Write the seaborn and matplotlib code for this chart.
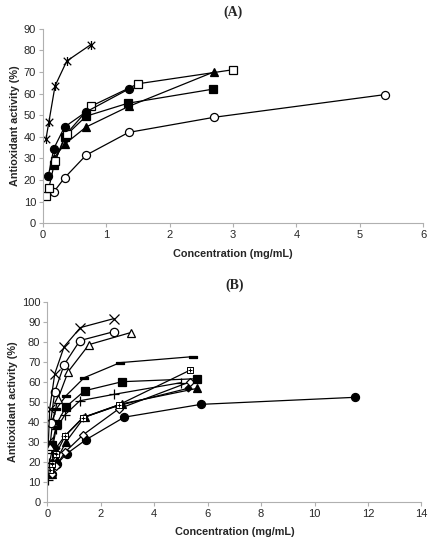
import seaborn as sns
import matplotlib.pyplot as plt
from matplotlib.path import Path

sns.set_style('white')
plt.rcParams['font.family'] = ['Liberation Sans', 'DejaVu Sans']

# ---- panel A data (concentration mg/mL, antioxidant activity %) ----
a_star_x = [0.047, 0.094, 0.19, 0.375, 0.75]
a_star_y = [39, 47, 63.5, 75, 82.5]
a_fcirc_x = [0.085, 0.17, 0.34, 0.68, 1.35]
a_fcirc_y = [22, 34.5, 44.5, 51.5, 62]
a_osq_x = [0.047, 0.094, 0.19, 0.375, 0.75, 1.5, 3.0]
a_osq_y = [12.5, 16.5, 29, 41.5, 54, 64.5, 71]
a_fsq_x = [0.17, 0.34, 0.68, 1.34, 2.68]
a_fsq_y = [27, 40, 49.5, 55.5, 62]
a_ftri_x = [0.17, 0.34, 0.68, 1.35, 2.7]
a_ftri_y = [30, 36.5, 44.5, 54, 70]
a_ocirc_x = [0.17, 0.34, 0.68, 1.35, 2.7, 5.4]
a_ocirc_y = [14.5, 21, 31.5, 42, 49, 59.5]

# ---- panel B data ----
b_x_x = [0.04, 0.09, 0.28, 0.63, 1.24, 2.5]
b_x_y = [30, 46.5, 64, 77.5, 87, 91.5]
b_ocirc_x = [0.12, 0.28, 0.63, 1.22, 2.5]
b_ocirc_y = [39.5, 55, 68.5, 80.5, 85]
b_otri_x = [0.1, 0.2, 0.4, 0.78, 1.56, 3.12]
b_otri_y = [28, 40, 51.5, 65, 78.5, 84.5]
b_dash_x = [0.17, 0.34, 0.7, 1.38, 2.72, 5.44]
b_dash_y = [40, 46.5, 53, 62, 69.5, 72.5]
b_fsq_x = [0.175, 0.35, 0.7, 1.4, 2.8, 5.6]
b_fsq_y = [28.5, 39, 47.5, 55.5, 60, 61.5]
b_plus_x = [0.04, 0.08, 0.16, 0.33, 0.66, 1.22, 2.5, 5.0]
b_plus_y = [11, 19.5, 24.5, 36.5, 43.5, 50.5, 53.7, 59.5]
b_box_x = [0.085, 0.17, 0.33, 0.67, 1.34, 2.68, 5.35]
b_box_y = [16, 19, 24, 33, 42, 48.5, 65.8]
b_odia_x = [0.17, 0.33, 0.67, 1.34, 2.68, 5.35]
b_odia_y = [14, 18, 25, 33.5, 46.5, 60]
b_fdia_x = [0.085, 0.17, 0.33, 0.66, 1.32, 2.64, 5.27]
b_fdia_y = [15, 20, 27, 33, 42, 48, 56.7]
b_ftri_x = [0.175, 0.35, 0.7, 1.4, 2.8, 5.62]
b_ftri_y = [14, 21, 30, 42.5, 49, 56.7]
b_fcirc_x = [0.18, 0.36, 0.72, 1.44, 2.88, 5.75, 11.5]
b_fcirc_y = [14, 19, 24, 31, 42.3, 48.7, 52.2]

# excel style markers
star = Path([(-1, -1), (1, 1), (-1, 1), (1, -1), (0, -1.2), (0, 1.2)],
            [Path.MOVETO, Path.LINETO, Path.MOVETO, Path.LINETO, Path.MOVETO, Path.LINETO])
dash = Path([(-1, -0.3), (1, -0.3), (1, 0.3), (-1, 0.3), (-1, -0.3)],
            [Path.MOVETO, Path.LINETO, Path.LINETO, Path.LINETO, Path.CLOSEPOLY])
boxplus = Path([(-1, -1), (1, -1), (1, 1), (-1, 1), (-1, -1),
                (-0.6, 0), (0.6, 0), (0, -0.6), (0, 0.6)],
               [Path.MOVETO, Path.LINETO, Path.LINETO, Path.LINETO, Path.CLOSEPOLY,
                Path.MOVETO, Path.LINETO, Path.MOVETO, Path.LINETO])


def draw(ax, x, y, marker, fill, ms=5.8, mew=0.9):
    sns.lineplot(x=x, y=y, ax=ax, color='black', lw=0.9, marker=marker,
                 ms=ms, mfc=fill, mec='black', mew=mew, legend=False)


def style_axes(ax, xmax, xstep, ymax, title):
    ax.set_xlim(0, xmax)
    ax.set_ylim(0, ymax)
    ax.set_xticks(range(0, xmax + 1, xstep))
    ax.set_yticks(range(0, ymax + 1, 10))
    for s in ['top', 'right']:
        ax.spines[s].set_visible(False)
    for s in ['left', 'bottom']:
        ax.spines[s].set_color('#b0b0b0')
        ax.spines[s].set_linewidth(0.8)
    ax.tick_params(axis='both', direction='out', length=3, width=0.8, color='#b0b0b0',
                   labelsize=8, pad=2, left=True, bottom=True)
    ax.set_xlabel('Concentration (mg/mL)', fontsize=7.8, fontweight='bold', labelpad=6)
    ax.set_ylabel('Antioxidant activity (%)', fontsize=7.8, fontweight='bold', labelpad=3)
    ax.set_title(title, fontsize=10, fontweight='bold', family='Liberation Serif', pad=9)
    ax.patch.set_alpha(0)


fig = plt.figure(figsize=(4.3, 5.5), dpi=100)
ax1 = fig.add_axes([0.1, 0.594, 0.884, 0.354])
ax2 = fig.add_axes([0.11, 0.0873, 0.870, 0.3645])

draw(ax1, a_ocirc_x, a_ocirc_y, 'o', 'white')
draw(ax1, a_ftri_x, a_ftri_y, '^', 'black')
draw(ax1, a_fsq_x, a_fsq_y, 's', 'black', ms=5.2)
draw(ax1, a_osq_x, a_osq_y, 's', 'white')
draw(ax1, a_fcirc_x, a_fcirc_y, 'o', 'black')
draw(ax1, a_star_x, a_star_y, star, 'none', ms=6.5)
style_axes(ax1, 6, 1, 90, '(A)')

draw(ax2, b_fcirc_x, b_fcirc_y, 'o', 'black')
draw(ax2, b_ftri_x, b_ftri_y, '^', 'black')
draw(ax2, b_fdia_x, b_fdia_y, 'D', 'black', ms=3.5)
draw(ax2, b_odia_x, b_odia_y, 'D', 'white', ms=4.5)
draw(ax2, b_box_x, b_box_y, boxplus, 'white', ms=5, mew=0.7)
draw(ax2, b_plus_x, b_plus_y, '+', 'none', ms=7, mew=0.9)
draw(ax2, b_fsq_x, b_fsq_y, 's', 'black')
draw(ax2, b_dash_x, b_dash_y, dash, 'black', ms=6)
draw(ax2, b_otri_x, b_otri_y, '^', 'white', ms=6)
draw(ax2, b_ocirc_x, b_ocirc_y, 'o', 'white', ms=6)
draw(ax2, b_x_x, b_x_y, 'x', 'none', ms=7, mew=0.9)
style_axes(ax2, 14, 2, 100, '(B)')

plt.savefig('out.png', dpi=100)
